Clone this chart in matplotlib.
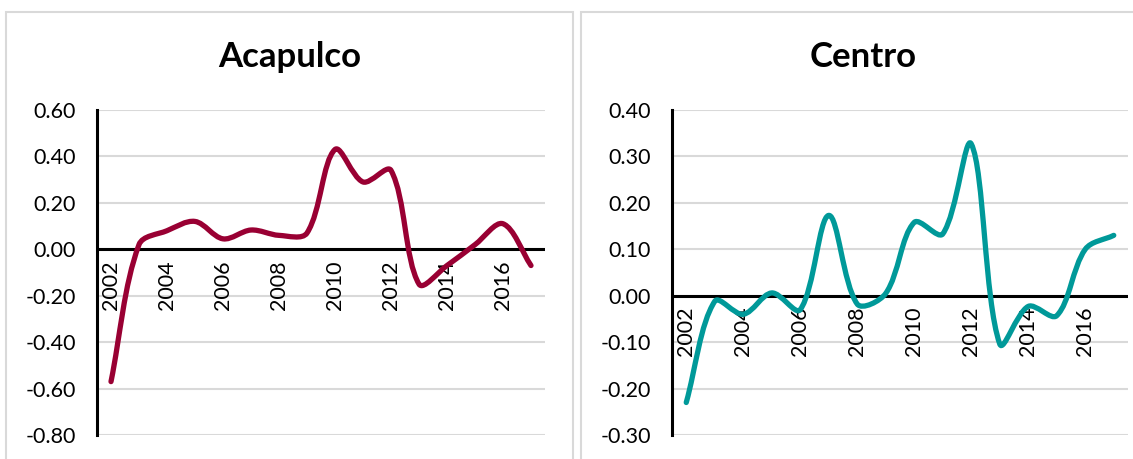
import matplotlib
matplotlib.use("Agg")
import matplotlib.pyplot as plt
from matplotlib.path import Path
from matplotlib.patches import PathPatch, Rectangle
import numpy as np

plt.rcParams['font.family'] = ['Lato', 'DejaVu Sans']

years = list(range(2002, 2018))
year_labels = [str(y) if (y % 2 == 0) else "" for y in years]

acapulco = [-0.57, 0.02, 0.08, 0.12, 0.045, 0.083, 0.06, 0.07, 0.43, 0.29, 0.34,
            -0.15, -0.07, 0.02, 0.11, -0.07]
centro = [-0.23, -0.012, -0.04, 0.006, -0.03, 0.173, -0.018, 0.005, 0.158, 0.133,
          0.327, -0.104, -0.023, -0.043, 0.10, 0.13]

acap_ticks = [0.60, 0.40, 0.20, 0.00, -0.20, -0.40, -0.60, -0.80]
centro_ticks = [0.40, 0.30, 0.20, 0.10, 0.00, -0.10, -0.20, -0.30]

W, H = 1133, 459
fig = plt.figure(figsize=(W / 100, H / 100), dpi=100)


def smooth_path(ax, xs, ys, tension=1 / 3):
    # Excel-like smoothing: Bezier controls scaled by neighbouring segment lengths (in pixels)
    pts = ax.transData.transform(np.column_stack([xs, ys]))
    n = len(pts)
    cin = [None] * n
    cout = [None] * n
    for i in range(n):
        p = pts[i]
        prev = pts[max(i - 1, 0)]
        nxt = pts[min(i + 1, n - 1)]
        t = nxt - prev
        dp = np.hypot(*(p - prev))
        dn = np.hypot(*(nxt - p))
        s = dp + dn if dp + dn > 0 else 1.0
        cout[i] = p + t * tension * dn / s
        cin[i] = p - t * tension * dp / s
    verts = [pts[0]]
    codes = [Path.MOVETO]
    for i in range(n - 1):
        verts += [cout[i], cin[i + 1], pts[i + 1]]
        codes += [Path.CURVE4] * 3
    verts = ax.transData.inverted().transform(np.array(verts))
    return Path(verts, codes)


def panel(box, plot, title, values, ticks, color, fmt):
    bx0, by0, bx1, by1 = box
    fig.patches.append(Rectangle((bx0 / W, 1 - by1 / H), (bx1 - bx0) / W, (by1 - by0) / H,
                                 transform=fig.transFigure, fill=False,
                                 edgecolor='#d9d9d9', linewidth=1.5))
    px0, py0, px1, py1 = plot
    ax = fig.add_axes([px0 / W, 1 - py1 / H, (px1 - px0) / W, (py1 - py0) / H])
    ax.set_xlim(-0.5, len(values) - 0.5)
    ax.set_ylim(min(ticks), max(ticks))
    ax.set_yticks(ticks)
    ax.set_yticklabels([fmt(t) for t in ticks])
    ax.tick_params(axis='y', length=0, labelsize=15.5, pad=15)
    ax.set_xticks([])
    for s in ['top', 'right', 'bottom']:
        ax.spines[s].set_visible(False)
    ax.spines['left'].set_linewidth(2.2)
    ax.spines['left'].set_color('black')
    ax.grid(axis='y', color='#d9d9d9', linewidth=1.5)
    ax.set_axisbelow(True)
    ax.axhline(0, color='black', linewidth=2.2, zorder=2)
    xs = np.arange(len(values))
    for x, lab in zip(xs, year_labels):
        if lab:
            ax.annotate(lab, (x, 0), xytext=(0, -8), textcoords='offset points',
                        rotation=90, ha='center', va='top', fontsize=15.5, zorder=1)
    ax.add_patch(PathPatch(smooth_path(ax, xs, values), facecolor='none', edgecolor=color,
                           linewidth=3.8, capstyle='round', joinstyle='round', zorder=3))
    fig.text(((bx0 + bx1) / 2) / W, 1 - 57 / H, title, ha='center', va='center',
             fontsize=25, fontweight='bold')
    return ax


panel((6, 12, 573, 470), (97, 110, 545, 435), "Acapulco", acapulco, acap_ticks,
      '#990033', lambda t: f"{t:.2f}")
panel((581, 12, 1145, 470), (672, 110, 1128, 435), "Centro", centro, centro_ticks,
      '#009999', lambda t: f"{t:.2f}")

fig.savefig("out.png", dpi=100)
